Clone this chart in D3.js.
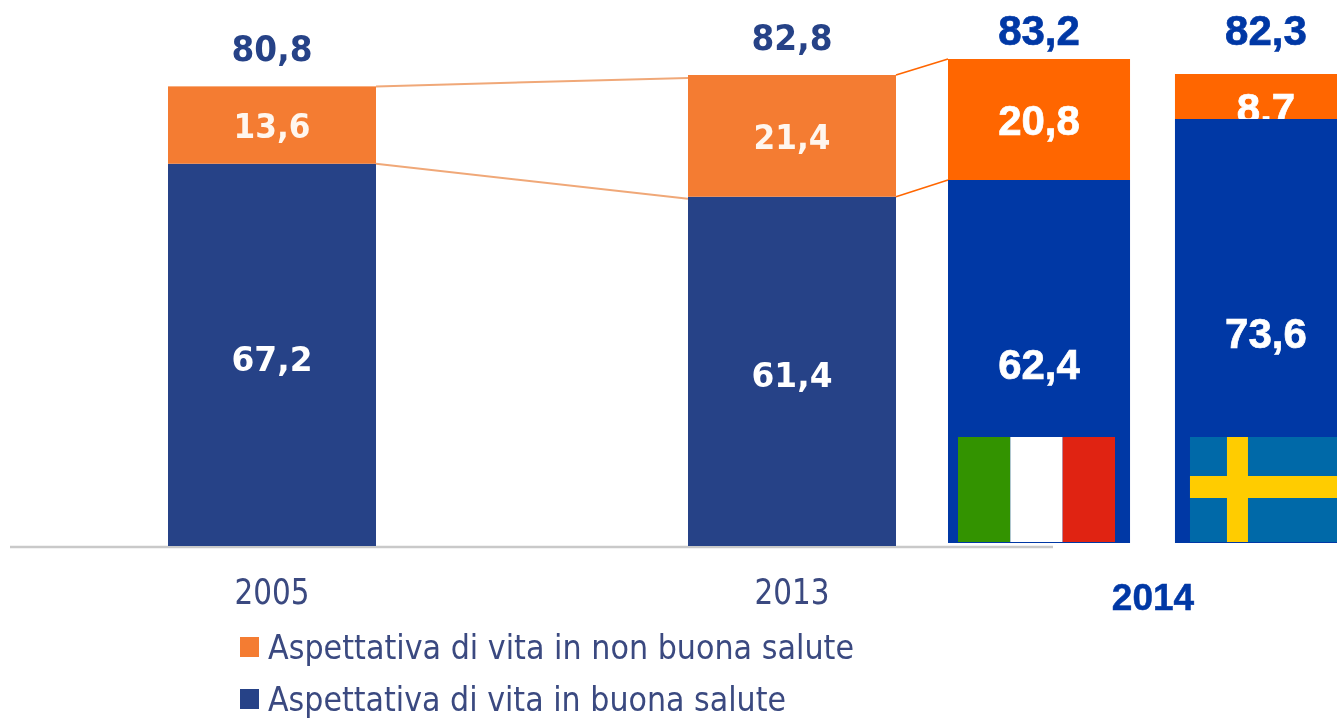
<!DOCTYPE html>
<html><head><meta charset="utf-8">
<script src="https://cdnjs.cloudflare.com/ajax/libs/d3/7.8.5/d3.min.js"></script>
<style>html,body{margin:0;padding:0;background:#fff;overflow:hidden}svg{display:block}</style>
</head><body><svg id="c" width="1337" height="718"></svg>
<script>
const yearsLeft = ["2005", "2013"];
const goodHealthLeft = [67.2, 61.4];
const poorHealthLeft = [13.6, 21.4];
const totalsLeft = ["80,8", "82,8"];
const goodLabelsLeft = ["67,2", "61,4"];
const poorLabelsLeft = ["13,6", "21,4"];
const countries = ["Italia", "Svezia"];
const goodHealth2014 = [62.4, 73.6];
const poorHealth2014 = [20.8, 8.7];
const totals2014 = ["83,2", "82,3"];
const goodLabels2014 = ["62,4", "73,6"];
const poorLabels2014 = ["20,8", "8.7"];
const yearRight = "2014";
const legendLabels = ["Aspettativa di vita in non buona salute", "Aspettativa di vita in buona salute"];

const C = {navy:"#254287", org:"#F47B30", blue:"#0038A5", orange:"#FF6600", line:"#F0A878", axis:"#c9c9c9", text:"#3a4a80"};
const svg = d3.select("#c");
const defs = svg.append("defs");
defs.append("filter").attr("id","soft").attr("x",0).attr("y",0).attr("width",1).attr("height",1)
  .append("feGaussianBlur").attr("stdDeviation",0.6);

const xL = d3.scaleBand().domain(yearsLeft).range([168,896]).paddingInner(0.6);
const yL = d3.scaleLinear().domain([0,82.8]).range([546,75]);
const xR = d3.scaleBand().domain(countries).range([948,1357]).paddingInner(0.198);
// the pasted 2014 panels are drawn at their own scale in the source picture
const yR = [
  d3.scaleLinear().domain([0,83.2]).range([543,59]),
  d3.scaleLinear().domain([0,73.6,82.3]).range([543,119,74])
];

const left = svg.append("g").attr("filter","url(#soft)");

// axis baseline and year labels
const axis = left.append("g").attr("transform","translate(0,547)")
  .call(d3.axisBottom(xL).tickSize(0).tickPadding(32));
axis.select(".domain").remove();
axis.selectAll("text").attr("font-family","'DejaVu Sans',sans-serif").attr("font-size",35)
  .attr("fill",C.text).attr("textLength",75).attr("lengthAdjust","spacingAndGlyphs");
left.append("line").attr("x1",10).attr("x2",1053).attr("y1",547).attr("y2",547)
  .attr("stroke",C.axis).attr("stroke-width",2.5);

// left bars
yearsLeft.forEach((yr,i)=>{
  const x = xL(yr), w = xL.bandwidth(), g = goodHealthLeft[i], p = poorHealthLeft[i];
  left.append("rect").attr("x",x).attr("width",w).attr("y",yL(g)).attr("height",yL(0)-yL(g)).attr("fill",C.navy);
  left.append("rect").attr("x",x).attr("width",w).attr("y",yL(g+p)).attr("height",yL(g)-yL(g+p)).attr("fill",C.org);
  const t = (s,y,fill,fs,len)=>left.append("text").attr("x",x+w/2).attr("y",y).attr("text-anchor","middle")
    .attr("font-family","'DejaVu Sans',sans-serif").attr("font-weight",700).attr("font-size",fs).attr("fill",fill)
    .attr("textLength",len).attr("lengthAdjust","spacingAndGlyphs").text(s);
  t(totalsLeft[i], yL(g+p)-25, C.navy, 35, 81);
  t(poorLabelsLeft[i], yL(g+p/2)+13, "#fff6ee", 34, 77);
  t(goodLabelsLeft[i], yL(g/2)+16, "#fff", 34, 81);
});

// connector lines
const a = xL(yearsLeft[0])+xL.bandwidth(), b = xL(yearsLeft[1]);
const tot = i=>goodHealthLeft[i]+poorHealthLeft[i];
[[a,yL(tot(0)),b,yL(tot(1))+3],[a,yL(goodHealthLeft[0]),b,yL(goodHealthLeft[1])+2]].forEach(l=>{
  left.append("line").attr("x1",l[0]).attr("y1",l[1]).attr("x2",l[2]).attr("y2",l[3]).attr("stroke",C.line).attr("stroke-width",2);
});
const c = b+xL.bandwidth(), d0 = xR(countries[0]);
[[c,yL(tot(1)),d0,yR[0](goodHealth2014[0]+poorHealth2014[0])],[c,yL(goodHealthLeft[1]),d0,yR[0](goodHealth2014[0])]].forEach(l=>{
  svg.append("line").attr("x1",l[0]).attr("y1",l[1]).attr("x2",l[2]).attr("y2",l[3]).attr("stroke",C.orange).attr("stroke-width",1.5);
});

// 2014 bars: the value label of the orange part sits below the blue part, which may cover it
countries.forEach((n,i)=>{
  const x = xR(n), w = xR.bandwidth(), y = yR[i], g = goodHealth2014[i], p = poorHealth2014[i];
  const t = (s,yy,fill)=>svg.append("text").attr("x",x+w/2).attr("y",yy).attr("text-anchor","middle")
    .attr("font-family","'Liberation Sans',Arial,sans-serif").attr("font-weight",700).attr("font-size",42)
    .attr("fill",fill).attr("stroke",fill).attr("stroke-width",0.7).text(s);
  svg.append("rect").attr("x",x).attr("width",w).attr("y",y(g+p)).attr("height",y(g)-y(g+p)).attr("fill",C.orange);
  t(poorLabels2014[i], i===0 ? y(g+p/2)+15 : y(g+p/2)+26, "#fff");
  svg.append("rect").attr("x",x).attr("width",w).attr("y",y(g)).attr("height",y(0)-y(g)).attr("fill",C.blue);
  t(goodLabels2014[i], y(g/2)+17, "#fff");
  t(totals2014[i], 45, C.blue);
});

// flags
const fy = 437, fh = 105;
const fx0 = xR(countries[0])+10;
const bands = d3.scaleBand().domain([0,1,2]).range([fx0,fx0+157]);
["#339300","#ffffff","#E02312"].forEach((col,i)=>{
  svg.append("rect").attr("x",bands(i)).attr("y",fy).attr("width",bands.bandwidth()).attr("height",fh).attr("fill",col);
});
const fx1 = xR(countries[1])+15;
svg.append("rect").attr("x",fx1).attr("y",fy).attr("width",160).attr("height",fh).attr("fill","#0069A8");
svg.append("rect").attr("x",fx1+37).attr("y",fy).attr("width",21).attr("height",fh).attr("fill","#FFCC00");
svg.append("rect").attr("x",fx1).attr("y",fy+39).attr("width",160).attr("height",22).attr("fill","#FFCC00");

svg.append("text").attr("x",1153).attr("y",610).attr("text-anchor","middle")
  .attr("font-family","'Liberation Sans',Arial,sans-serif").attr("font-weight",700).attr("font-size",37)
  .attr("fill",C.blue).attr("stroke",C.blue).attr("stroke-width",0.5).text(yearRight);

// legend
const leg = left.append("g");
legendLabels.forEach((s,i)=>{
  const cy = 647+i*52;
  leg.append("rect").attr("x",240).attr("y",cy-10).attr("width",19).attr("height",20).attr("fill",i===0?C.org:C.navy);
  leg.append("text").attr("x",268).attr("y",cy+12).attr("font-family","'DejaVu Sans',sans-serif").attr("font-size",34)
    .attr("fill",C.text).attr("textLength",i===0?586:518).attr("lengthAdjust","spacingAndGlyphs").text(s);
});
</script></body></html>
